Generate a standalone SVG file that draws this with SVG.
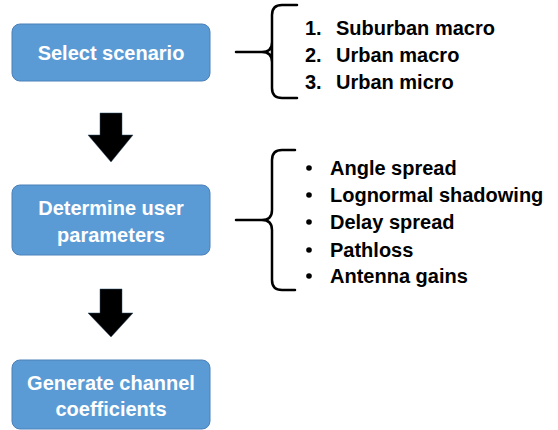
<svg xmlns="http://www.w3.org/2000/svg" width="558" height="430" viewBox="0 0 558 430">
<style>
.box{fill:#5B9BD5;stroke:#4A80B8;stroke-width:1}
.bt{font-family:"Liberation Sans",Arial,sans-serif;font-weight:bold;font-size:20px;fill:#ffffff;text-anchor:middle}
.lt{font-family:"Liberation Sans",Arial,sans-serif;font-weight:bold;font-size:20px;fill:#000000}
.brace{fill:none;stroke:#000;stroke-width:2.5;stroke-linecap:round;stroke-linejoin:round}
.arr{fill:#000;stroke:#2F4F6F;stroke-width:0.5}
</style>
<rect width="558" height="430" fill="#ffffff"/>
<g id="node-select">
<rect class="box" x="12" y="24" width="198" height="57" rx="8"/>
<text class="bt" x="111" y="60">Select scenario</text>
</g>
<g id="node-determine">
<rect class="box" x="12" y="185" width="198" height="70" rx="8"/>
<text class="bt" x="111" y="215">Determine user</text>
<text class="bt" x="111" y="242">parameters</text>
</g>
<g id="node-generate">
<rect class="box" x="12" y="360" width="198" height="69" rx="8"/>
<text class="bt" x="111" y="390">Generate channel</text>
<text class="bt" x="111" y="416">coefficients</text>
</g>
<g id="list-scenarios">
<path class="brace" d="M236,52 L262,52 Q272,52 272,42 L272,15 Q272,5 282,5 L297,5 M272,42 L272,88 Q272,98 282,98 L297,98 M262,52 Q272,52 272,62"/>
<text class="lt" x="305" y="35">1.</text><text class="lt" x="336" y="35">Suburban macro</text>
<text class="lt" x="305" y="62">2.</text><text class="lt" x="336" y="62">Urban macro</text>
<text class="lt" x="305" y="89">3.</text><text class="lt" x="336" y="89">Urban micro</text>
</g>
<g id="list-params">
<path class="brace" d="M236,220 L262,220 Q272,220 272,210 L272,160 Q272,150 282,150 L295,150 M262,220 Q272,220 272,230 L272,280 Q272,290 282,290 L295,290"/>
<g class="lt">
<circle cx="309" cy="168" r="2.8"/>
<circle cx="309" cy="195" r="2.8"/>
<circle cx="309" cy="222" r="2.8"/>
<circle cx="309" cy="250" r="2.8"/>
<circle cx="309" cy="276" r="2.8"/>
</g>
<text class="lt" x="330" y="175">Angle spread</text>
<text class="lt" x="330" y="202">Lognormal shadowing</text>
<text class="lt" x="330" y="229">Delay spread</text>
<text class="lt" x="330" y="257">Pathloss</text>
<text class="lt" x="330" y="283">Antenna gains</text>
</g>
<g id="connectors">
<polygon class="arr" points="100,113 122,113 122,135 133,135 111,162 88,135 100,135"/>
<polygon class="arr" points="100,289 122,289 122,313 133,313 111,337 88,313 100,313"/>
</g>
</svg>
